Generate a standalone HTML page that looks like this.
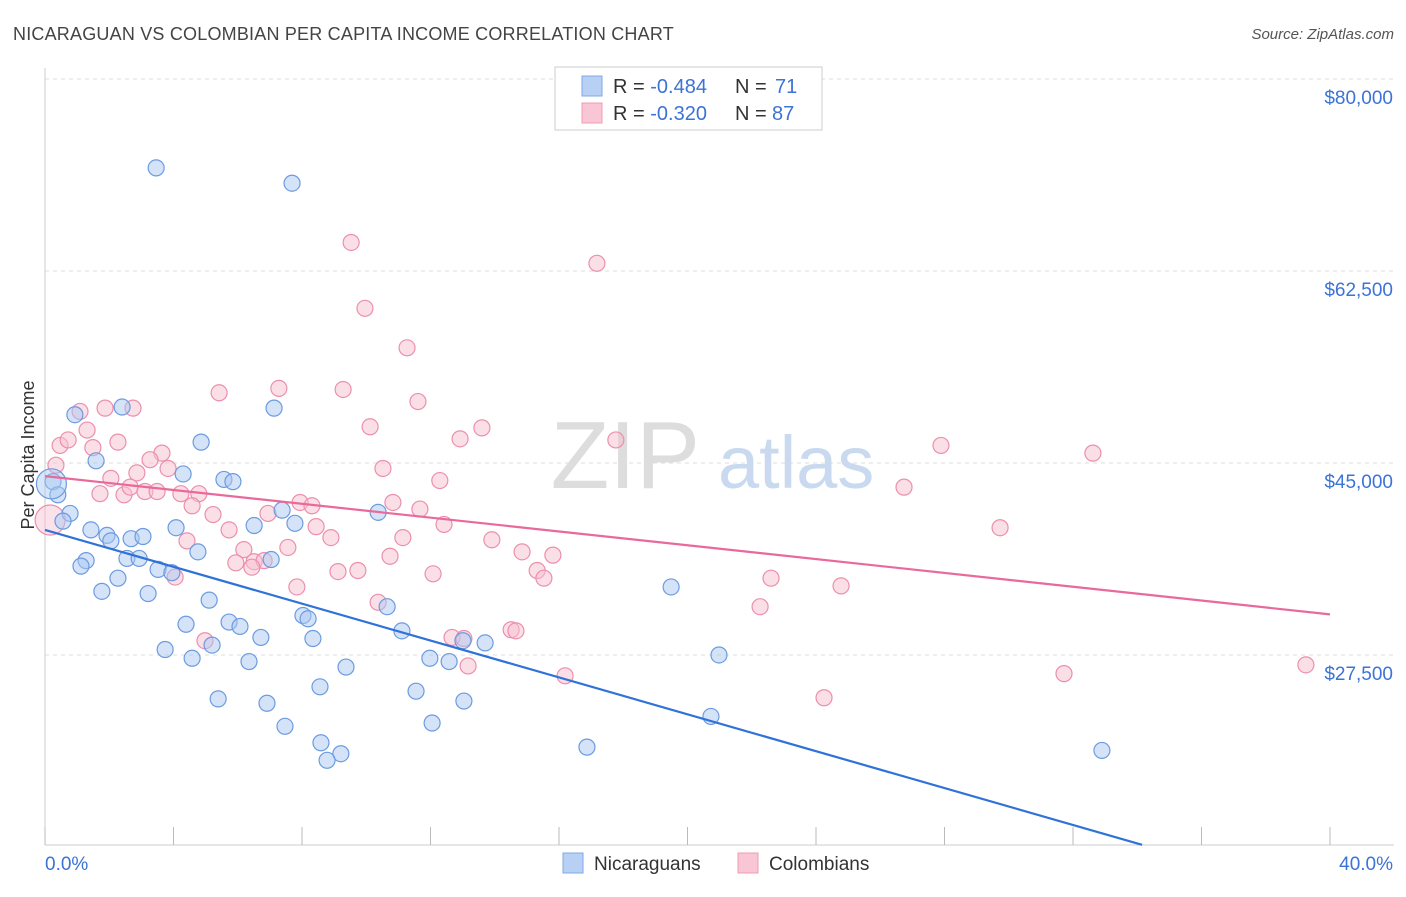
<!DOCTYPE html>
<html><head><meta charset="utf-8"><style>
body{margin:0;background:#fff;font-family:"Liberation Sans",sans-serif;}
svg text{font-family:"Liberation Sans",sans-serif;}
</style></head><body>
<svg id="chart" width="1406" height="892" viewBox="0 0 1406 892" xmlns="http://www.w3.org/2000/svg">
<text x="13" y="40" font-size="18" fill="#444" letter-spacing="0.2">NICARAGUAN VS COLOMBIAN PER CAPITA INCOME CORRELATION CHART</text>
<text x="1394" y="39" font-size="15" fill="#555" font-style="italic" text-anchor="end">Source: ZipAtlas.com</text>
<g id="grid"></g>
<text x="700" y="488" font-size="96" fill="#ddd" font-family="Liberation Serif" text-anchor="end">ZIP</text>
<text x="718" y="488" font-size="74" fill="#c9d9ef">atlas</text>
<g id="axes"></g>
<g id="pts"></g>
<g id="lines"></g>
<text transform="translate(34,455) rotate(-90)" font-size="18" fill="#333" text-anchor="middle">Per Capita Income</text>
<g>
<rect x="555" y="67" width="267" height="63" fill="#fff" stroke="#ccc"/>
<rect x="582" y="76" width="20" height="20" fill="#b7d0f4" stroke="#7fa8e4"/>
<rect x="582" y="103" width="20" height="20" fill="#f9c6d5" stroke="#ef9cb6"/>
<text x="613" y="93" font-size="20" fill="#333">R = <tspan fill="#3b73d6">-0.484</tspan></text>
<text x="735" y="93" font-size="20" fill="#333">N = </text>
<text x="775" y="93" font-size="20" fill="#3b73d6">71</text>
<text x="613" y="120" font-size="20" fill="#333">R = <tspan fill="#3b73d6">-0.320</tspan></text>
<text x="735" y="120" font-size="20" fill="#333">N = </text>
<text x="772" y="120" font-size="20" fill="#3b73d6">87</text>
</g>
<g>
<rect x="563" y="853" width="20" height="20" fill="#b7d0f4" stroke="#7fa8e4"/>
<text x="594" y="870" font-size="19" fill="#333">Nicaraguans</text>
<rect x="738" y="853" width="20" height="20" fill="#f9c6d5" stroke="#ef9cb6"/>
<text x="769" y="870" font-size="19" fill="#333">Colombians</text>
</g>
</svg>
<script>
const yTicks=[27500,45000,62500,80000];
const yTickLabels=["$27,500","$45,000","$62,500","$80,000"];
const xTickVals=[0,4,8,12,16,20,24,28,32,36,40];
const nicX=[3.46,7.69,0.93,2.40,7.13,1.59,4.86,4.30,5.57,5.85,0.25,0.40,0.78,0.56,1.43,1.93,2.05,2.68,3.05,4.08,6.51,7.38,7.78,10.37,1.28,1.12,2.55,2.93,4.76,7.04,3.52,2.27,3.95,1.77,3.21,5.11,8.03,8.19,10.65,4.39,5.73,6.07,6.72,8.34,11.11,5.20,3.74,4.58,6.35,9.37,11.98,12.58,13.01,13.70,8.56,5.39,6.91,11.55,13.04,7.47,12.05,8.59,9.21,8.78,16.87,19.49,20.98,20.73,32.90,0.2];
const nicY=[71.9,70.5,49.4,50.1,50.0,45.2,46.9,44.0,43.5,43.3,43.3,42.1,40.4,39.7,38.9,38.4,37.9,38.1,38.3,39.1,39.3,40.7,39.5,40.5,36.1,35.6,36.3,36.3,36.9,36.2,35.3,34.5,35.0,33.3,33.1,32.5,31.1,30.8,31.9,30.3,30.5,30.1,29.1,29.0,29.7,28.4,28.0,27.2,26.9,26.4,27.2,26.9,28.8,28.6,24.6,23.5,23.1,24.2,23.3,21.0,21.3,19.5,18.5,17.9,19.1,33.7,27.5,21.9,18.8,43.1];
const colX=[9.53,17.18,9.96,11.27,5.42,7.28,9.28,11.61,1.09,1.87,2.74,1.31,10.12,13.60,12.92,17.77,27.89,32.62,0.47,0.72,2.27,1.49,0.34,3.64,3.27,3.83,10.52,2.05,2.86,12.29,26.74,1.71,2.46,2.65,3.11,3.49,4.23,4.79,4.58,7.94,8.31,10.83,11.67,5.23,6.94,8.44,12.42,29.73,5.73,8.90,11.14,13.91,4.42,7.56,6.19,14.85,15.81,10.74,5.94,6.51,6.82,6.44,9.12,9.74,12.08,15.32,15.53,4.05,22.60,7.84,24.78,10.37,22.26,4.98,12.67,13.04,14.51,14.66,13.17,16.19,24.25,31.72,39.25,0.16];
const colY=[65.1,63.2,59.1,55.5,51.4,51.8,51.7,50.6,49.7,50.0,50.0,48.0,48.3,48.2,47.2,47.1,46.6,45.9,46.6,47.1,46.9,46.4,44.8,45.9,45.3,44.5,44.5,43.6,44.1,43.4,42.8,42.2,42.1,42.8,42.4,42.4,42.2,42.2,41.1,41.4,41.1,41.4,40.8,40.3,40.4,39.2,39.4,39.1,38.9,38.2,38.2,38.0,37.9,37.3,37.1,36.9,36.6,36.5,35.9,36.0,36.1,35.5,35.1,35.2,34.9,35.2,34.5,34.6,34.5,33.7,33.8,32.3,31.9,28.8,29.1,29.0,29.8,29.7,26.5,25.6,23.6,25.8,26.6,39.8];
const nicTrend=[38.9,10.2];
const nicTrendX=[0,34.15];
const colTrend=[43.8,31.2];
const colTrendX=[0,40];

const X=v=>45+v*32.125;
const Y=v=>79+(80-v)*10.971;
const NS="http://www.w3.org/2000/svg";
function mk(tag,attrs,parent){const e=document.createElementNS(NS,tag);for(const k in attrs)e.setAttribute(k,attrs[k]);parent.appendChild(e);return e;}
const grid=document.getElementById('grid'),axes=document.getElementById('axes'),pts=document.getElementById('pts'),lines=document.getElementById('lines');
yTicks.forEach((t,i)=>{
  const l=mk('line',{x1:45,x2:1394,y1:Y(t/1000),y2:Y(t/1000),stroke:'#ddd','stroke-dasharray':'4,4'},grid);
  
  
  const tx=mk('text',{x:1393,y:Y(t/1000)+25,'font-size':19,fill:'#3b73d6','text-anchor':'end'},axes);
  tx.textContent=yTickLabels[i];
  
  
});
mk('line',{x1:45,x2:45,y1:68,y2:845,stroke:'#ccc'},axes);
mk('line',{x1:45,x2:1394,y1:845,y2:845,stroke:'#ccc'},axes);
xTickVals.forEach(v=>{
  const l=mk('line',{x1:X(v),x2:X(v),y1:827,y2:845,stroke:'#bbb'},axes);
  
  
});
const xl0=mk('text',{x:45,y:870,'font-size':19,fill:'#3b73d6'},axes);xl0.textContent='0.0%';


const xl1=mk('text',{x:1393,y:870,'font-size':19,fill:'#3b73d6','text-anchor':'end'},axes);xl1.textContent='40.0%';


function dots(xs,ys,fill,stroke,name){
  xs.forEach((x,i)=>{
    const big=(i===xs.length-1);
    const c=mk('circle',{cx:X(x),cy:Y(ys[i]),r:big?15:8,fill:fill,'fill-opacity':big?0.45:0.5,stroke:stroke,'stroke-width':1.2},pts);
    
    
  });
}
dots(colX,colY,'#f7bfd0','#ec8fae','colombian-point');
dots(nicX,nicY,'#a9c7f1','#6c9be0','nicaraguan-point');
const l1=mk('line',{x1:X(nicTrendX[0]),y1:Y(nicTrend[0]),x2:X(nicTrendX[1]),y2:Y(nicTrend[1]),stroke:'#2f72d8','stroke-width':2.2},lines);


const l2=mk('line',{x1:X(colTrendX[0]),y1:Y(colTrend[0]),x2:X(colTrendX[1]),y2:Y(colTrend[1]),stroke:'#e8699a','stroke-width':2.2},lines);


</script>
</body></html>
